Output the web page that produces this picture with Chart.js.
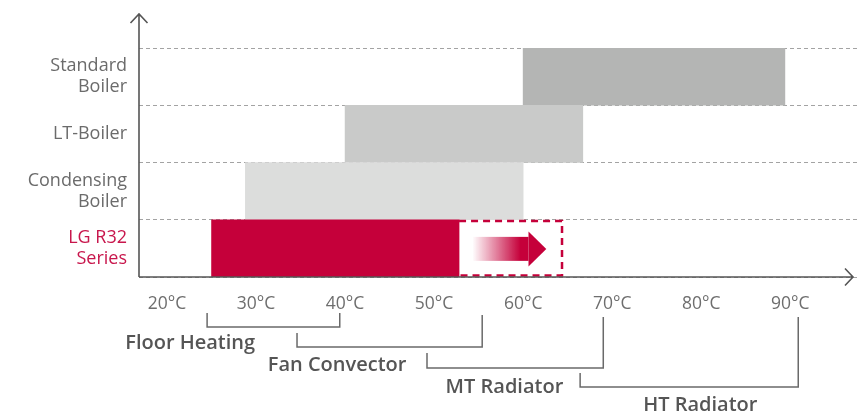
<!DOCTYPE html>
<html><head><meta charset="utf-8">
<script src="https://cdn.jsdelivr.net/npm/chart.js@4.4.1/dist/chart.umd.min.js"></script>
<style>html,body{margin:0;padding:0;background:#fff}#wrap{width:859px;height:412px;position:relative}</style>
</head><body><div id="wrap"><canvas id="c"></canvas></div>
<script>
// ---- data ----
const categories = [['Standard', 'Boiler'], ['LT-Boiler'], ['Condensing', 'Boiler'], ['LG R32', 'Series']];
const rangeStart = [60, 40, 28.8, 25];
const rangeEnd = [89.4, 66.7, 60, 52.8];
const extensionRange = [52.8, 64.5];      // LG R32 dashed extension
const arrowStops = [54.3, 60.6, 62.6];     // fade start, head base, tip
const tickValues = [20, 30, 40, 50, 60, 70, 80, 90];
const emitterNames = ['Floor Heating', 'Fan Convector', 'MT Radiator', 'HT Radiator'];
const emitterStart = [24.5, 34.6, 49.2, 66.4];
const emitterEnd = [39.4, 55.4, 69.0, 90.9];

// ---- styles / layout ----
const barColors = ['#b4b5b4', '#c9cac9', '#dcdddc', '#c5003a'];
const labelColors = ['#6b6b6b', '#6b6b6b', '#6b6b6b', '#c8164c'];
const RED = '197,0,58';
// offsets below x-axis (px): leftTop, rightTop, bottom, labelY ; label anchor value
const bracketLayout = [
  {lt: 36, rt: 36, b: 50, ly: 66, lx: 22.6},
  {lt: 56, rt: 38, b: 70, ly: 88, lx: 39.1},
  {lt: 76, rt: 40, b: 91, ly: 110, lx: 57.9},
  {lt: 96, rt: 40, b: 110, ly: 128, lx: 79.9}
];

Chart.defaults.font.family = "'Open Sans', 'Noto Sans', sans-serif";

const overlay = {
  id: 'overlay',
  afterDatasetsDraw(chart) {
    const {ctx, chartArea: ca, scales: {x, y}} = chart;
    const band = (y.getPixelForValue(1) - y.getPixelForValue(0));
    const rowTop = y.getPixelForValue(3) - band / 2;
    const rowBot = y.getPixelForValue(3) + band / 2;
    // dashed extension box
    const x0 = x.getPixelForValue(extensionRange[0]);
    const x1 = x.getPixelForValue(extensionRange[1]);
    ctx.save();
    ctx.strokeStyle = 'rgb(' + RED + ')';
    ctx.lineWidth = 2.5;
    ctx.setLineDash([7, 5]);
    ctx.beginPath();
    ctx.moveTo(x0, rowTop + 1.2);
    ctx.lineTo(x1 - 1.2, rowTop + 1.2);
    ctx.lineTo(x1 - 1.2, rowBot - 1.5);
    ctx.lineTo(x0, rowBot - 1.5);
    ctx.stroke();
    ctx.setLineDash([]);
    // gradient arrow
    const a0 = x.getPixelForValue(arrowStops[0]);
    const a1 = x.getPixelForValue(arrowStops[1]);
    const a2 = x.getPixelForValue(arrowStops[2]);
    const cy = (rowTop + rowBot) / 2 + 0.5;
    const g = ctx.createLinearGradient(a0, 0, a1 - 8, 0);
    g.addColorStop(0, 'rgba(' + RED + ',0)');
    g.addColorStop(1, 'rgba(' + RED + ',1)');
    ctx.fillStyle = g;
    ctx.fillRect(a0, cy - 12, a1 - a0, 24);
    ctx.fillStyle = 'rgb(' + RED + ')';
    ctx.beginPath();
    ctx.moveTo(a1, cy - 17.5);
    ctx.lineTo(a2, cy);
    ctx.lineTo(a1, cy + 17.5);
    ctx.closePath();
    ctx.fill();
    ctx.restore();
  },
  afterDraw(chart) {
    const {ctx, chartArea: ca, scales: {x}} = chart;
    ctx.save();
    // axes with arrowheads
    ctx.strokeStyle = '#555';
    ctx.lineWidth = 1.6;
    ctx.beginPath();
    ctx.moveTo(ca.left, ca.bottom);
    ctx.lineTo(ca.left, 14);
    ctx.moveTo(ca.left - 8.5, 23);
    ctx.lineTo(ca.left, 14);
    ctx.lineTo(ca.left + 8.5, 23);
    ctx.moveTo(ca.left, ca.bottom);
    ctx.lineTo(853, ca.bottom);
    ctx.moveTo(845, ca.bottom - 8.5);
    ctx.lineTo(853, ca.bottom);
    ctx.lineTo(845, ca.bottom + 8.5);
    ctx.stroke();
    // emitter brackets
    ctx.strokeStyle = '#6a6a6a';
    ctx.lineWidth = 1.5;
    ctx.fillStyle = '#555';
    ctx.font = "600 20px 'Open Sans', sans-serif";
    ctx.textAlign = 'center';
    ctx.textBaseline = 'middle';
    emitterNames.forEach((name, i) => {
      const L = bracketLayout[i];
      const xs = x.getPixelForValue(emitterStart[i]);
      const xe = x.getPixelForValue(emitterEnd[i]);
      const yb = ca.bottom + L.b;
      ctx.beginPath();
      ctx.moveTo(xs, ca.bottom + L.lt);
      ctx.lineTo(xs, yb);
      ctx.lineTo(xe, yb);
      ctx.lineTo(xe, ca.bottom + L.rt);
      ctx.stroke();
      ctx.fillText(name, x.getPixelForValue(L.lx), ca.bottom + L.ly);
    });
    ctx.restore();
  }
};

new Chart(document.getElementById('c'), {
  type: 'bar',
  data: {
    labels: categories,
    datasets: [{
      data: categories.map((_, i) => [rangeStart[i], rangeEnd[i]]),
      backgroundColor: barColors,
      borderWidth: 0,
      barPercentage: 1,
      categoryPercentage: 1
    }]
  },
  options: {
    indexAxis: 'y',
    responsive: true,
    maintainAspectRatio: false,
    animation: false,
    layout: {padding: {top: 48, right: 2, left: 0, bottom: 0}},
    plugins: {legend: {display: false}, tooltip: {enabled: false}},
    scales: {
      x: {
        type: 'linear',
        min: 16.85,
        max: 97.5,
        grid: {display: false, drawTicks: false},
        border: {display: false},
        afterBuildTicks: s => { s.ticks = tickValues.map(v => ({value: v})); },
        afterFit: s => { s.height = 135; },
        ticks: {
          callback: v => v + '°C',
          font: {size: 17.5},
          color: '#6e6e6e',
          padding: 17,
          maxRotation: 0,
          autoSkip: false
        }
      },
      y: {
        type: 'category',
        offset: true,
        grid: {color: '#a3a3a3', lineWidth: 1, drawTicks: false, offset: true},
        border: {display: false, dash: [4, 3]},
        afterFit: s => { s.width = 139; },
        ticks: {
          font: {size: 18, lineHeight: 1.17},
          color: labelColors,
          padding: 12
        }
      }
    }
  },
  plugins: [overlay]
});
</script>
</body></html>
